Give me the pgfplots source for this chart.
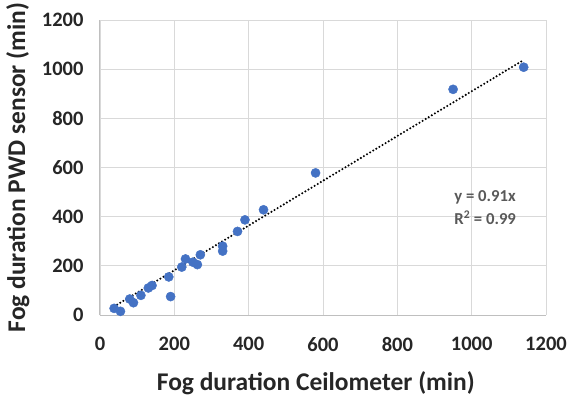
\documentclass[border=0pt]{standalone}
\usepackage{pgfplots}
\pgfplotsset{compat=1.18}
\usepackage{fontspec}
\setmainfont{Carlito}
\definecolor{pts}{HTML}{4472C4}
\definecolor{grd}{HTML}{D9D9D9}
\definecolor{axc}{HTML}{BFBFBF}
\definecolor{txt}{HTML}{595959}
\definecolor{lab}{HTML}{262626}
\begin{document}
\begin{tikzpicture}
\path[use as bounding box] (-100pt,-82pt) rectangle (472pt,315pt);
\begin{axis}[
  at={(0pt,0pt)}, anchor=origin,
  scale only axis, width=446pt, height=295pt,
  xmin=0, xmax=1200, ymin=0, ymax=1200,
  xtick={0,200,...,1200}, ytick={0,200,...,1200},
  grid=major, major grid style={grd, line width=0.8pt},
  axis line style={axc, line width=1pt},
  axis x line*=bottom, axis y line*=left,
  tick style={draw=none},
  /pgf/number format/assume math mode=true,
  /pgf/number format/1000 sep={},
  ticklabel style={font=\fontsize{20.5}{24}\selectfont\bfseries, text=lab},
  xticklabel style={yshift=-19pt},
  yticklabel style={xshift=-13pt},
  xlabel={Fog duration Ceilometer (min)},
  ylabel={Fog duration PWD sensor (min)},
  label style={font=\fontsize{25.5}{30}\selectfont\bfseries, text=lab},
  xlabel style={at={(axis description cs:0.484,-0.2305)}, anchor=center},
  ylabel style={at={(axis description cs:-0.184,0.5)}, anchor=center},
  clip=false,
]
\addplot[only marks, mark=*, mark size=4.6pt, mark options={draw=pts, fill=pts}] coordinates {
(38,27) (55,15) (80,65) (90,50) (110,80) (130,110) (140,120) (185,155) (190,75)
(220,195) (230,228) (250,215) (262,205) (270,245) (330,280) (330,260)
(370,340) (390,387) (440,428) (580,578) (950,918) (1140,1008)
};
\addplot[black, line width=2.3pt, line cap=round, dash pattern=on 0pt off 3.6pt] coordinates {(38,34.58) (1140,1037.4)};
\node[anchor=west, font=\fontsize{16.7}{20}\selectfont\bfseries, text=txt] at (axis cs:944,480) {y = 0.91x};
\node[anchor=west, font=\fontsize{16.7}{20}\selectfont\bfseries, text=txt] at (axis cs:944,395) {R\textsuperscript{2} = 0.99};
\end{axis}
\end{tikzpicture}
\end{document}
